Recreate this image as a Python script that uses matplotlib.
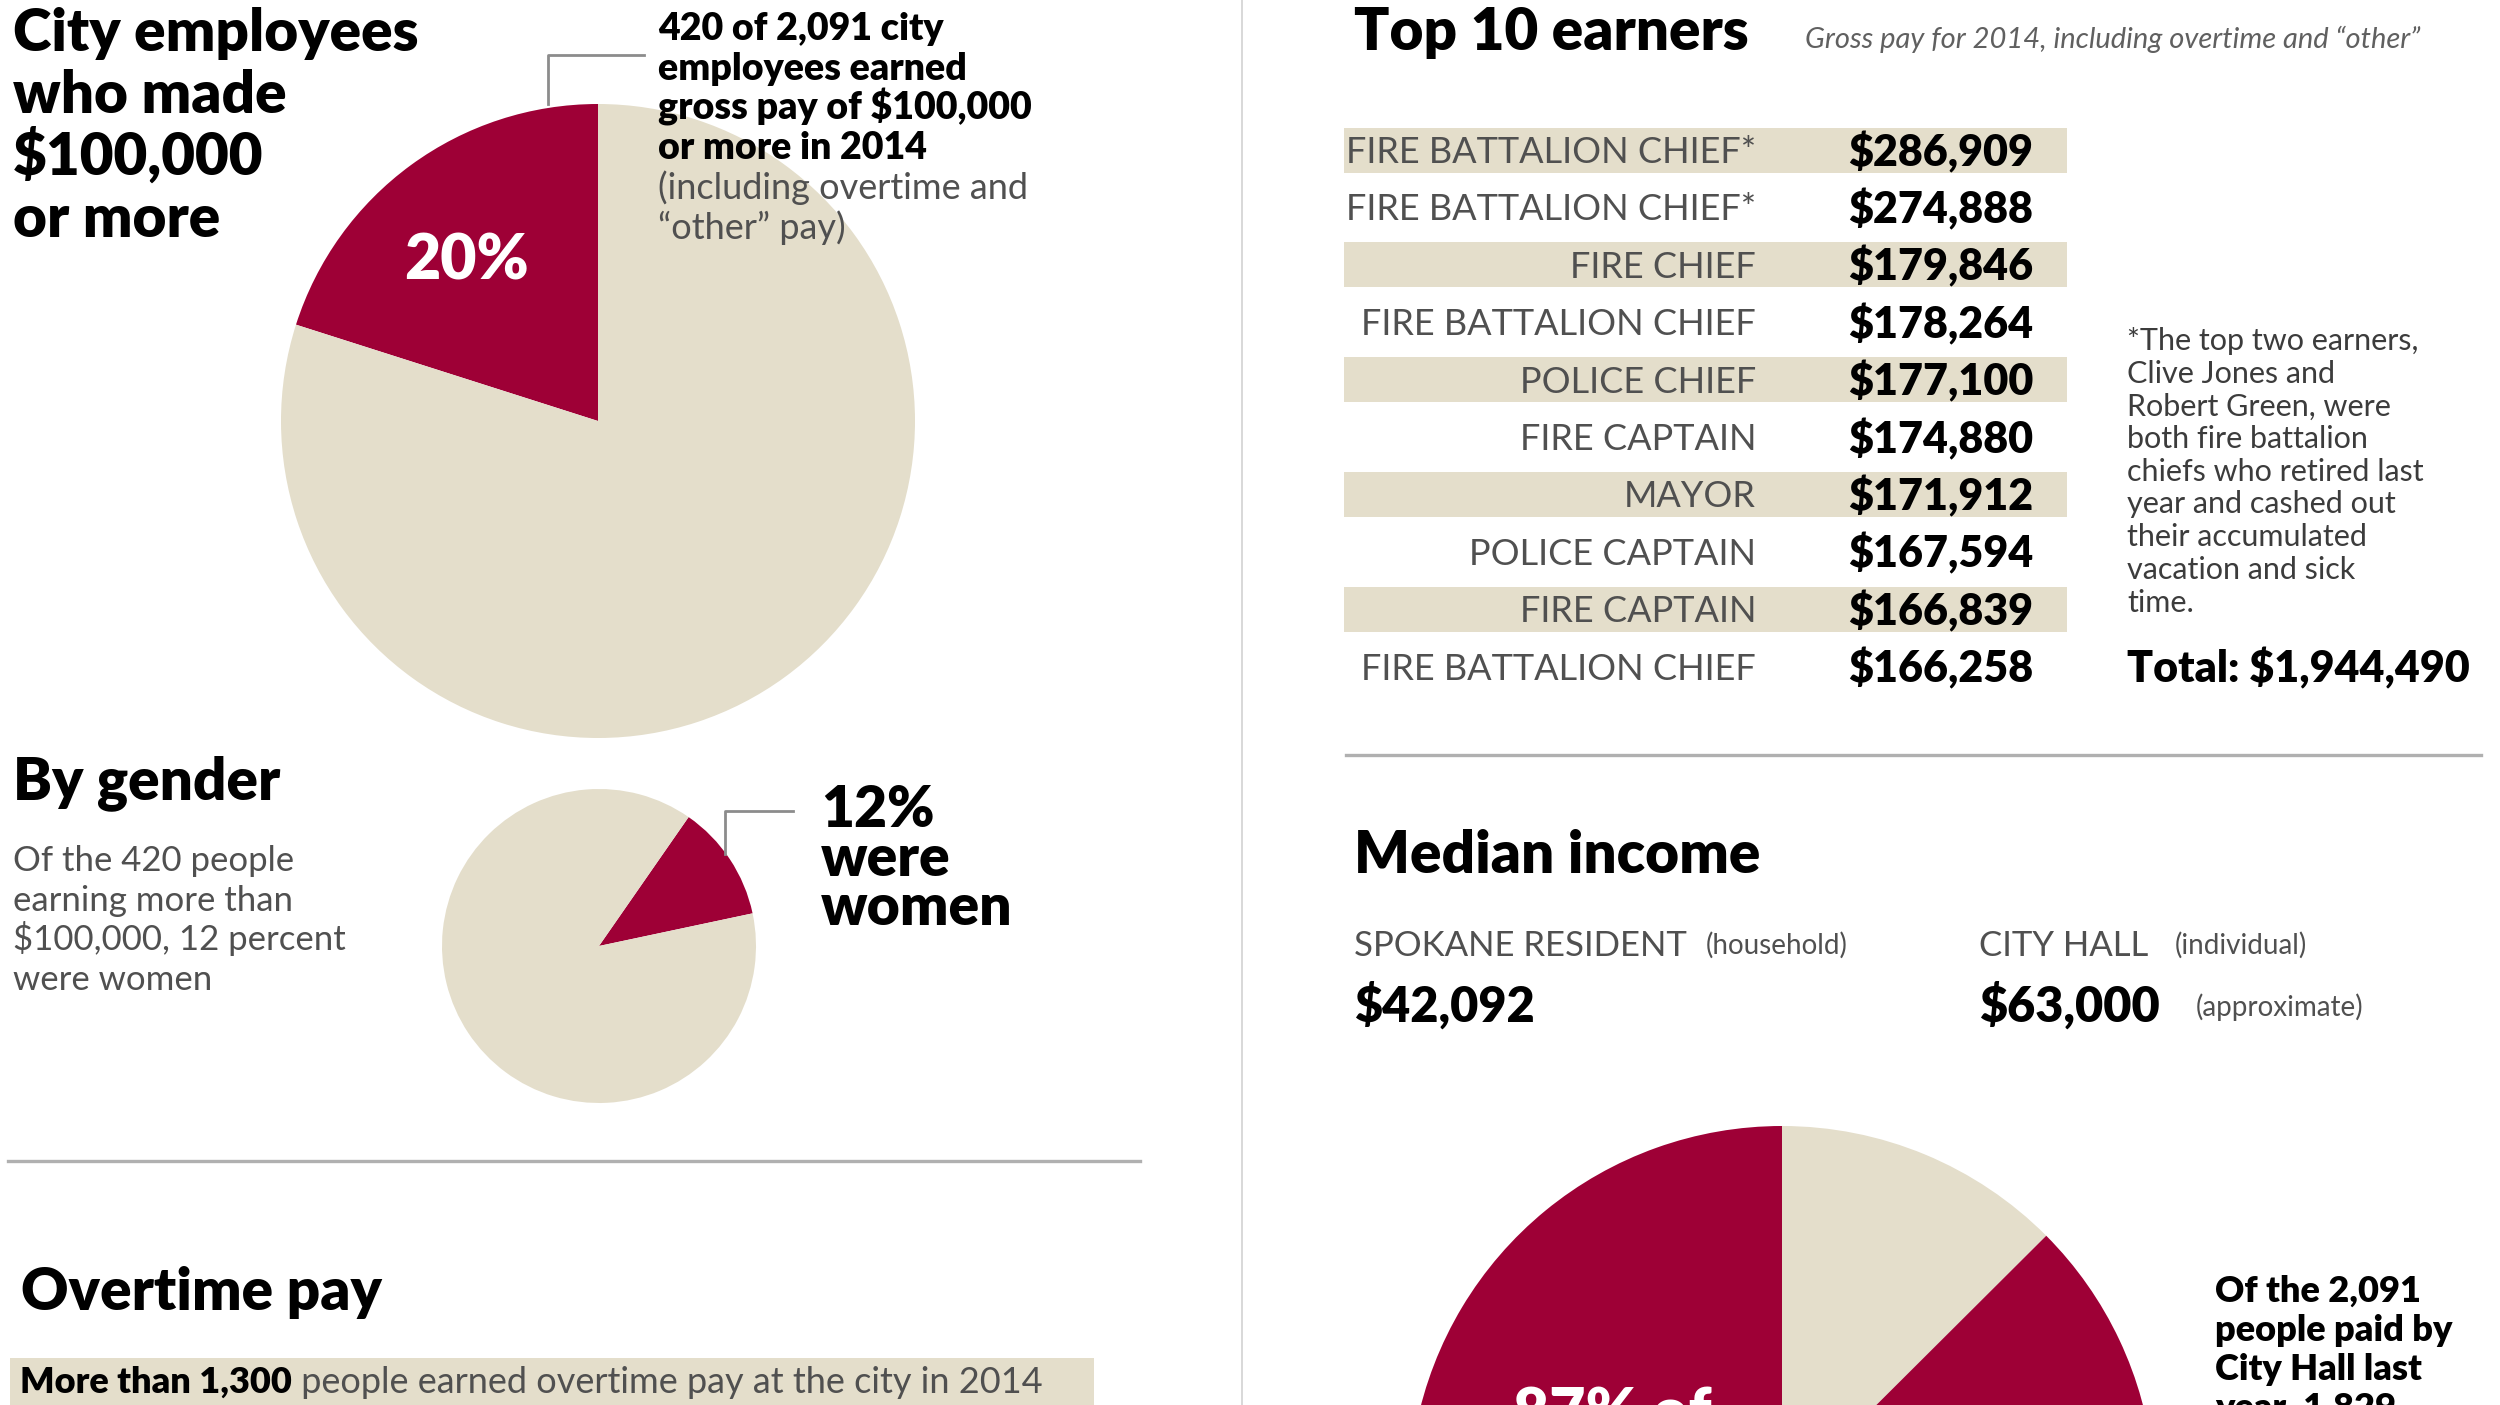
import matplotlib.pyplot as plt
from matplotlib.patches import Rectangle

W, H = 2500, 1405
RED = '#9e0036'
BEIGE = '#e4decb'
GRAY = '#505050'
RULE = '#b0b0b0'

# employees earning $100,000 or more vs the rest
over_100k = [420, 2091 - 420]
# share of the 420 who were women (percent)
women_share = [12, 88]

top_titles = ['FIRE BATTALION CHIEF*', 'FIRE BATTALION CHIEF*', 'FIRE CHIEF',
              'FIRE BATTALION CHIEF', 'POLICE CHIEF', 'FIRE CAPTAIN', 'MAYOR',
              'POLICE CAPTAIN', 'FIRE CAPTAIN', 'FIRE BATTALION CHIEF']
top_pay = [286909, 274888, 179846, 178264, 177100, 174880, 171912,
           167594, 166839, 166258]

resident_median = 42092
city_hall_median = 63000

# city hall staff split: minority slice vs majority slice
city_hall_split = [262, 1829]

plt.rcParams['font.family'] = ['Lato', 'DejaVu Sans']

fig = plt.figure(figsize=(25, 14.05), dpi=100)
ax = fig.add_axes([0, 0, 1, 1])

HEAD = 'heavy'


def Y(y):
    # picture rows run downwards, the axes run upwards
    return H - y


def txt(x, y, s, size, weight='normal', color='black', **kw):
    return ax.text(x, Y(y), s, fontsize=size, fontweight=weight, color=color,
                   va='baseline', **kw)


def block(x, y0, dy, lines, size, **kw):
    for i, s in enumerate(lines):
        txt(x, y0 + i * dy, s, size, **kw)


# ---- pies
nolines = dict(linewidth=0)
ax.pie(over_100k, colors=[RED, BEIGE], startangle=90, counterclock=True,
       center=(598, Y(421)), radius=317, frame=True, wedgeprops=nolines)
ax.pie(women_share, colors=[RED, BEIGE], startangle=12, counterclock=True,
       center=(599, Y(946)), radius=157, frame=True, wedgeprops=nolines)
ax.pie(city_hall_split, colors=[BEIGE, RED], startangle=90, counterclock=False,
       center=(1782, Y(1499)), radius=373, frame=True, wedgeprops=nolines)

# ---- left column
block(13, 51, 62, ['City employees', 'who made', '$100,000', 'or more'], 42, weight=HEAD)

pct_100k = round(100 * over_100k[0] / sum(over_100k))
txt(467, 279, f'{pct_100k}%', 45, HEAD, 'white', ha='center')

ax.plot([548, 548, 644], [Y(104), Y(55), Y(55)], color='#8c8c8c', lw=2)
block(658, 40, 39.8, [f'{over_100k[0]} of {sum(over_100k):,} city',
                      'employees earned', 'gross pay of $100,000', 'or more in 2014'],
      27, weight=HEAD)
block(658, 199, 39.8, ['(including overtime and', '“other” pay)'], 26, color=GRAY)

txt(13, 799, 'By gender', 42, HEAD)
block(13, 871, 39.7, ['Of the 420 people', 'earning more than',
                      '$100,000, 12 percent', 'were women'], 25, color=GRAY)

ax.plot([725, 725, 793], [Y(854), Y(811), Y(811)], color='#8c8c8c', lw=2)
block(821, 827, 49, [f'{women_share[0]}%', 'were', 'women'], 41, weight=HEAD)

ax.plot([8, 1140], [Y(1161), Y(1161)], color=RULE, lw=2.4)
ax.plot([1242, 1242], [0, H], color='#d2d2d2', lw=1.2)

txt(21, 1310, 'Overtime pay', 42, HEAD)
ax.add_patch(Rectangle((10, 0), 1084, H - 1358, color=BEIGE, lw=0))
lead = txt(20, 1393, 'More than 1,300', 26, HEAD)
ax.annotate(' people earned overtime pay at the city in 2014', xy=(1, 0),
            xycoords=lead, va='bottom', ha='left', fontsize=26, color=GRAY)

# ---- right column: top 10 earners
txt(1354, 50, 'Top 10 earners', 42, HEAD)
txt(1805, 48, 'Gross pay for 2014, including overtime and “other”', 21,
    color='#606060', style='italic')

row0, row_step = 150, 57.4
for i, (title, pay) in enumerate(zip(top_titles, top_pay)):
    yc = row0 + row_step * i
    if i % 2 == 0:
        ax.add_patch(Rectangle((1344, Y(yc) - 22.5), 723, 45, color=BEIGE, lw=0))
    txt(1756, yc + 13, title, 26, color=GRAY, ha='right')
    txt(1848, yc + 16, f'${pay:,}', 31, HEAD)

block(2127, 350, 32.7, ['*The top two earners,', 'Clive Jones and',
                        'Robert Green, were', 'both fire battalion',
                        'chiefs who retired last', 'year and cashed out',
                        'their accumulated', 'vacation and sick', 'time.'],
      22, color='#3c3c3c')
txt(2127, 682, f'Total: ${sum(top_pay):,}', 31, HEAD)

ax.plot([1346, 2481], [Y(755), Y(755)], color=RULE, lw=2.4)

# ---- median income
txt(1354, 873, 'Median income', 42, HEAD)
txt(1354, 956, 'SPOKANE RESIDENT', 25, color=GRAY)
txt(1706, 954, '(household)', 20, color=GRAY)
txt(1979, 956, 'CITY HALL', 25, color=GRAY)
txt(2175, 954, '(individual)', 20, color=GRAY)
txt(1354, 1022, f'${resident_median:,}', 35, HEAD)
txt(1979, 1022, f'${city_hall_median:,}', 35, HEAD)
txt(2196, 1016, '(approximate)', 20, color=GRAY)

pct_city = round(100 * city_hall_split[1] / sum(city_hall_split))
txt(1612, 1433, f'{pct_city}% of', 45, HEAD, 'white', ha='center')
block(2215, 1302, 39, [f'Of the {sum(city_hall_split):,}', 'people paid by',
                       'City Hall last', f'year, {city_hall_split[1]:,}'],
      26, weight=HEAD)

ax.set_xlim(0, W)
ax.set_ylim(0, H)
ax.set_aspect('auto')
ax.axis('off')

fig.savefig('out.png', dpi=100)
